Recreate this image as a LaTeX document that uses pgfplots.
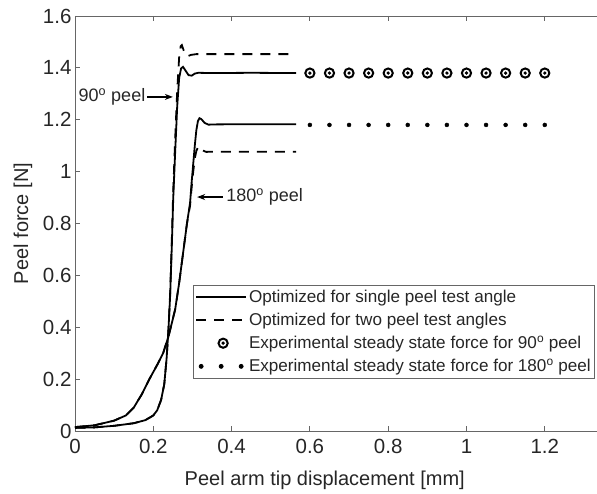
\documentclass[border=0pt]{standalone}
\usepackage{fontspec}
\setmainfont{Liberation Sans}
\usepackage{pgfplots}
\pgfplotsset{compat=1.18}
\usetikzlibrary{arrows.meta}

\pgfdeclareplotmark{cdot}{%
  \pgfpathcircle{\pgfpointorigin}{\pgfplotmarksize}\pgfusepathqstroke
  \pgfpathcircle{\pgfpointorigin}{0.4\pgfplotmarksize}\pgfusepathqfill}

\pgfplotsset{
  lineleg/.style={legend image code/.code={\draw[##1, line width=1.8bp] (0bp,0bp) -- (50bp,0bp);}},
  circleg/.style={legend image code/.code={\draw[##1] plot coordinates {(27bp,0bp)};}},
  dotleg/.style={legend image code/.code={\draw[##1] plot coordinates {(5bp,0bp) (25bp,0bp) (45bp,0bp)};}},
}

\begin{document}
\begin{tikzpicture}
\begin{axis}[
  scale only axis, width=528.5bp, height=415bp,
  xmin=0, xmax=1.35, ymin=0, ymax=1.6,
  xtick={0,0.2,0.4,0.6,0.8,1,1.2},
  ytick={0,0.2,0.4,0.6,0.8,1,1.2,1.4,1.6},
  tick align=inside, major tick length=5bp,
  axis line style={black!60, line width=0.8bp},
  every tick/.style={black!60, line width=0.8bp},
  /pgf/number format/assume math mode=true,
  tick label style={font=\fontsize{20.5bp}{24bp}\selectfont, text=black!85},
  xticklabel style={yshift=-5bp},
  label style={font=\fontsize{20bp}{24bp}\selectfont, text=black!85},
  xlabel={Peel arm tip displacement [mm]},
  ylabel={Peel force [N]},
  xlabel style={at={([yshift=-49bp]axis description cs:0.4726,0)}, anchor=center},
  ylabel style={at={([xshift=-52bp]axis description cs:0,0.5)}, anchor=center},
  legend cell align=left,
  legend style={at={(axis cs:0.301,0.563)}, anchor=north west, draw=black!60,
    line width=0.8bp, font=\fontsize{17.1bp}{20bp}\selectfont, text=black!85,
    inner xsep=2bp, inner ysep=3bp, row sep=5bp},
]
\addplot[black, line width=1.8bp, lineleg] coordinates {
(0,0.012) (0.05,0.014) (0.10,0.02) (0.15,0.03) (0.18,0.042) (0.20,0.06)
(0.21,0.08) (0.22,0.12) (0.228,0.18) (0.234,0.28) (0.239,0.40) (0.243,0.52)
(0.247,0.70) (0.251,0.90) (0.256,1.08) (0.261,1.25) (0.266,1.36) (0.271,1.398)
(0.276,1.404) (0.282,1.39) (0.290,1.372) (0.298,1.370) (0.306,1.378)
(0.315,1.381) (0.35,1.380) (0.45,1.381) (0.565,1.380)};
\addlegendentry{Optimized for single peel test angle}
\addplot[black, line width=1.8bp, dash pattern=on 10bp off 8bp, lineleg] coordinates {
(0,0.012) (0.05,0.014) (0.10,0.02) (0.15,0.03) (0.18,0.042) (0.20,0.06)
(0.21,0.08) (0.22,0.12) (0.228,0.18) (0.234,0.28) (0.239,0.40) (0.243,0.53)
(0.247,0.72) (0.251,0.93) (0.256,1.13) (0.261,1.31) (0.266,1.44) (0.270,1.484)
(0.273,1.488) (0.277,1.47) (0.282,1.45) (0.288,1.445) (0.296,1.45)
(0.31,1.453) (0.565,1.453)};
\addlegendentry{Optimized for two peel test angles}
\addplot[black, only marks, mark=cdot, mark size=4.6bp, mark options={line width=2bp, fill=black, draw=black}, circleg] coordinates {
(0.6,1.38) (0.65,1.38) (0.7,1.38) (0.75,1.38) (0.8,1.38) (0.85,1.38) (0.9,1.38)
(0.95,1.38) (1.0,1.38) (1.05,1.38) (1.1,1.38) (1.15,1.38) (1.2,1.38)};
\addlegendentry{Experimental steady state force for 90\textsuperscript{o} peel}
\addplot[black, only marks, mark=*, mark size=2bp, mark options={fill=black, draw=black}, dotleg] coordinates {
(0.6,1.18) (0.65,1.18) (0.7,1.18) (0.75,1.18) (0.8,1.18) (0.85,1.18) (0.9,1.18)
(0.95,1.18) (1.0,1.18) (1.05,1.18) (1.1,1.18) (1.15,1.18) (1.2,1.18)};
\addlegendentry{Experimental steady state force for 180\textsuperscript{o} peel}
\addplot[black, line width=1.8bp, forget plot] coordinates {
(0,0.015) (0.05,0.022) (0.10,0.04) (0.13,0.06) (0.15,0.09) (0.17,0.14)
(0.19,0.20) (0.21,0.255) (0.225,0.30) (0.238,0.36) (0.248,0.42) (0.256,0.47)
(0.266,0.57) (0.276,0.685) (0.286,0.80) (0.294,0.88) (0.298,0.96) (0.302,1.03)
(0.306,1.10) (0.310,1.16) (0.314,1.195) (0.318,1.206) (0.323,1.202)
(0.331,1.188) (0.341,1.181) (0.355,1.182) (0.45,1.183) (0.565,1.183)};
\addplot[black, line width=1.8bp, dash pattern=on 10bp off 8bp, forget plot] coordinates {
(0,0.015) (0.05,0.022) (0.10,0.04) (0.13,0.06) (0.15,0.09) (0.17,0.14)
(0.19,0.20) (0.21,0.255) (0.225,0.30) (0.238,0.36) (0.248,0.42) (0.256,0.47)
(0.266,0.57) (0.276,0.685) (0.286,0.80) (0.294,0.87) (0.298,0.94) (0.302,1.0)
(0.306,1.05) (0.310,1.08) (0.315,1.096) (0.320,1.094) (0.326,1.082)
(0.335,1.076) (0.35,1.077) (0.565,1.077)};
\draw[-{Stealth[length=8bp,width=6bp]}, line width=1.2bp] (axis cs:0.184,1.288) -- (axis cs:0.250,1.288);
\node[anchor=east, inner sep=0pt, text=black!85, font=\fontsize{18bp}{21bp}\selectfont] at (axis cs:0.180,1.288) {90\textsuperscript{o} peel};
\draw[-{Stealth[length=8bp,width=6bp]}, line width=1.2bp] (axis cs:0.378,0.902) -- (axis cs:0.312,0.902);
\node[anchor=west, inner sep=0pt, text=black!85, font=\fontsize{18bp}{21bp}\selectfont] at (axis cs:0.386,0.902) {180\textsuperscript{o} peel};
\end{axis}
\pgfresetboundingbox
\path[use as bounding box] ([xshift=-75bp,yshift=-63bp]current axis.south west) rectangle ([xshift=522bp,yshift=16bp]current axis.north west);
\end{tikzpicture}
\end{document}
